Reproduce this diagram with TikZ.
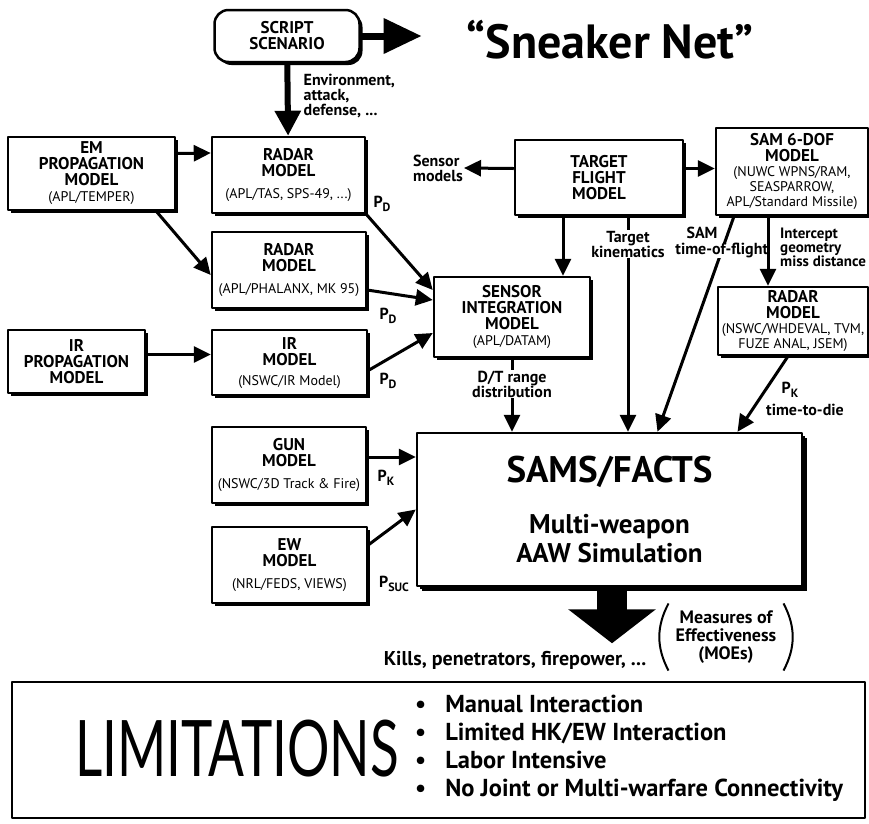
\documentclass[tikz,border=0pt]{standalone}
\usepackage{fontspec}
\setmainfont{PT Sans}
\newfontfamily\thinfont{Lato}[FakeStretch=0.68]
\usetikzlibrary{arrows.meta,shadows,positioning}

% type sizes used in the boxes and on the arrows
\newcommand\hd{\bfseries\fontsize{17}{16}\selectfont}
\newcommand\subfont{\mdseries\fontsize{14}{15}\selectfont}
\newcommand\lbl{\bfseries\fontsize{16}{15}\selectfont}
\newcommand\prob[1]{P\raisebox{-4pt}{\fontsize{12}{12}\selectfont #1}}

\tikzset{
  model/.style={draw, line width=2.5pt, fill=white, align=center, inner sep=0pt,
    drop shadow={shadow xshift=3pt, shadow yshift=-3pt, opacity=1, fill=black}},
  tag/.style={font=\lbl, align=left, inner sep=1pt},
  flow/.style={line width=3pt, -{Triangle[length=17pt,width=16pt]}},
  heavy/.style={line width=7pt, -{Triangle[length=38pt,width=34pt]}},
}

\begin{document}
\begin{tikzpicture}[x=1pt,y=-1pt,line join=round]
\useasboundingbox (0,0) rectangle (869,823);

%% scenario on top
\node[model, rounded corners=14pt, minimum width=145pt, minimum height=52pt, font=\hd] (scen) at (287,36) {SCRIPT\\SCENARIO};
\node[font=\bfseries\fontsize{48}{48}\selectfont, inner sep=0pt] (sneak) at (610,40) {“Sneaker Net”};
\draw[heavy, shorten >=45pt] (scen.east) -- (scen.east -| sneak.west);

%% sensor side
\node[model, minimum width=167pt, minimum height=73pt, font=\hd] (em) at (91.5,173.5) {EM\\PROPAGATION\\MODEL\\[0pt]{\subfont(APL/TEMPER)}};
\node[model, minimum width=153pt, minimum height=76pt, font=\hd] (radarA) at (288.5,175) {RADAR\\MODEL\\[6pt]{\subfont(APL/TAS, SPS-49, ...)}};
\node[model, minimum width=154pt, minimum height=76pt, font=\hd] (radarB) at (289,270) {RADAR\\MODEL\\[6pt]{\subfont(APL/PHALANX, MK 95)}};
\node[model, minimum width=137pt, minimum height=63pt, font=\hd] (irprop) at (76.5,361.5) {IR\\PROPAGATION\\MODEL};
\node[model, minimum width=155pt, minimum height=65pt, font=\hd] (ir) at (289.5,362.5) {IR\\MODEL\\[4pt]{\subfont(NSWC/IR Model)}};
\node[model, minimum width=156pt, minimum height=80pt, font=\hd] (sim) at (512,317) {SENSOR\\INTEGRATION\\MODEL\\[0pt]{\subfont(APL/DATAM)}};

%% target and missile side
\node[model, minimum width=168pt, minimum height=75pt, font=\hd] (tfm) at (599,177.5) {TARGET\\FLIGHT\\MODEL};
\node[model, minimum width=152pt, minimum height=87pt, font=\hd] (sam6) at (792,171.5) {SAM 6-DOF\\MODEL\\[-1pt]{\subfont(NUWC WPNS/RAM,}\\[-1pt]{\subfont SEASPARROW,}\\[-1pt]{\subfont APL/Standard Missile)}};
\node[model, minimum width=150pt, minimum height=68pt, font=\hd] (radarC) at (793,321) {RADAR\\MODEL\\[-1pt]{\subfont(NSWC/WHDEVAL, TVM,}\\[-1pt]{\subfont FUZE ANAL, JSEM)}};

%% weapons
\node[model, minimum width=154pt, minimum height=76pt, font=\hd] (gun) at (289,465) {GUN\\MODEL\\[6pt]{\subfont(NSWC/3D Track \& Fire)}};
\node[model, minimum width=155pt, minimum height=76pt, font=\hd] (ew) at (289.5,565) {EW\\MODEL\\[6pt]{\subfont(NRL/FEDS, VIEWS)}};
\node[model, minimum width=385pt, minimum height=153pt, font=\bfseries\fontsize{27}{29}\selectfont,
  drop shadow={shadow xshift=5pt, shadow yshift=-5pt, opacity=1, fill=black}] (sams) at (609.5,509.5)
  {{\fontsize{37}{37}\selectfont SAMS/FACTS}\\[22pt]Multi-weapon\\AAW Simulation};

%% arrows between the models
\draw[heavy, line width=6pt, -{Triangle[length=25pt,width=25pt]}] (scen) -- (radarA)
  node[tag, right=12pt, pos=0.45] {Environment,\\attack,\\defense, ...};
\draw[flow] ([yshift=20pt]em.east) -- ([yshift=22pt]radarA.west);
\draw[flow] ([xshift=-20pt]em.south east) -- ([yshift=-5pt]radarB.west);
\draw[flow] ([yshift=7pt]irprop.east) -- ([yshift=7pt]irprop.east -| ir.west);
\draw[flow] (radarA.south east) -- ([yshift=27pt]sim.west);
\draw[flow] ([yshift=-20pt]radarB.east) -- ([yshift=17pt]sim.west);
\draw[flow] ([yshift=-8pt]ir.east) -- ([yshift=-16pt]sim.west);
\node[tag] (pdA) at (382,204) {\prob{D}};
\node[tag] (pdB) at (388,316) {\prob{D}};
\node[tag] (pdC) at (388,381) {\prob{D}};

\node[tag, anchor=east] (smod) at (464,168) {Sensor\\models};
\draw[flow] ([yshift=9pt]tfm.west) -- (smod.east);
\draw[flow] ([yshift=9pt]tfm.east) -- ([yshift=9pt]tfm.east -| sam6.west);
\coordinate (tk1) at ([xshift=-36pt]tfm.south);
\coordinate (tk2) at ([xshift=29pt]tfm.south);
\draw[flow] (tk1) -- (tk1 |- sim.north);
\draw[flow] (tk2) -- (tk2 |- sams.north)
  node[tag, align=center, fill=white, pos=0.13] {Target\\kinematics};

\coordinate (tof) at ([xshift=-58pt]sam6.south);
\draw[flow] (tof) -- ([xshift=48pt]sams.north)
  node[tag, fill=white, inner sep=0pt, pos=0.16] {time-of-flight};
\node[tag] (samlbl) at (702,233) {SAM};

\coordinate (icpt) at ([xshift=-24pt]sam6.south);
\draw[flow] (icpt) -- (icpt |- radarC.north);
\node[tag, anchor=north west, font=\bfseries\fontsize{15}{14}\selectfont] (geom) at (779,227) {Intercept\\geometry\\miss distance};
\draw[flow] ([xshift=-5pt]radarC.south) -- ([xshift=128pt]sams.north);
\node[tag] (pk) at (790,390) {\prob{K}};
\node[tag] (ttd) at (805,410) {time-to-die};

\draw[flow] (sim) -- (sim.south |- sams.north)
  node[tag, align=center, fill=white, pos=0.35] {D/T range\\distribution};

\draw[flow] ([yshift=8pt]gun.east) -- ([yshift=8pt]gun.east -| sams.west);
\node[tag] (pkg) at (386,478) {\prob{K}};
\draw[flow] ([yshift=20pt]ew.east) -- (sams.west);
\node[tag] (psuc) at (394,584) {\prob{SUC}};

%% output of the simulation
\coordinate (moeout) at ([xshift=2.5pt,yshift=-56pt]sams.south);
\draw[line width=30pt, -{Triangle[length=34pt,width=86pt]}] ([xshift=2.5pt]sams.south) -- (moeout);
\node[tag, align=center, font=\bfseries\fontsize{20}{18}\selectfont] (kills) at (515,660) {Kills, penetrators, firepower, ...};
\node[tag, align=center, font=\bfseries\fontsize{18}{18}\selectfont] (moe) at (726,637) {Measures of\\Effectiveness\\(MOEs)};
\draw[line width=2pt] ([xshift=-6pt,yshift=6pt]moe.north west) to[bend right=28] ([xshift=-6pt,yshift=-6pt]moe.south west);
\draw[line width=2pt] ([xshift=6pt,yshift=6pt]moe.north east) to[bend left=28] ([xshift=6pt,yshift=-6pt]moe.south east);

%% limitations
\node[draw, line width=2.5pt, minimum width=853pt, minimum height=136pt] (lim) at (438.5,750) {};
\node[font=\thinfont\fontsize{78}{78}\selectfont, inner sep=0pt] (limtxt) at (237,749) {LIMITATIONS};
\node[anchor=west, font=\bfseries\fontsize{24.5}{28}\selectfont, align=left, inner sep=0pt] (items) at (415,749)
  {\begin{tabular}{@{}l@{\hspace{19pt}}l@{}}
   •&Manual Interaction\\
   •&Limited HK/EW Interaction\\
   •&Labor Intensive\\
   •&No Joint or Multi-warfare Connectivity
   \end{tabular}};
\end{tikzpicture}
\end{document}
